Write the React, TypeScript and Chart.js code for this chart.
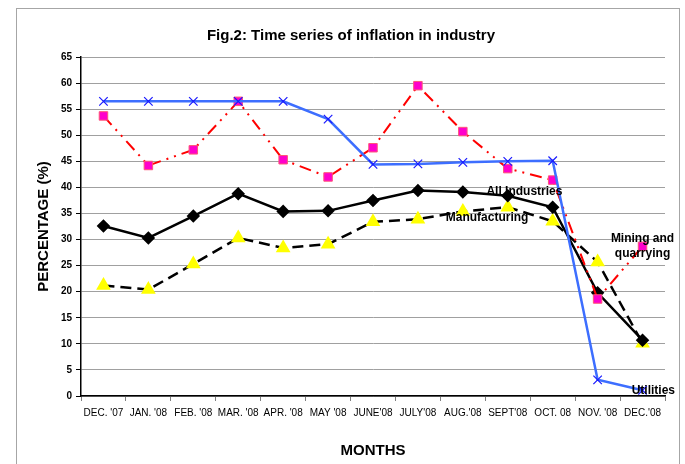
import React, { useEffect, useRef } from "react";
import { Chart, registerables } from "chart.js";

Chart.register(...registerables);

const categories = [
  "DEC. '07", "JAN. '08", "FEB. '08", "MAR. '08", "APR. '08", "MAY '08",
  "JUNE'08", "JULY'08", "AUG.'08", "SEPT'08", "OCT. 08", "NOV. '08", "DEC.'08",
];
const allIndustries = [32.6, 30.3, 34.5, 38.8, 35.4, 35.5, 37.5, 39.4, 39.1, 38.4, 36.2, 19.8, 10.7];
const manufacturing = [21.2, 20.4, 25.3, 30.3, 28.4, 29.1, 33.4, 33.9, 35.4, 36.2, 33.5, 25.7, 10.1];
const mining = [53.7, 44.2, 47.2, 56.5, 45.3, 42.0, 47.6, 59.5, 50.7, 43.6, 41.4, 18.6, 28.7];
const utilities = [56.5, 56.5, 56.5, 56.5, 56.5, 53.1, 44.4, 44.5, 44.8, 45.0, 45.1, 3.1, 1.1];
const yTicks = [0, 5, 10, 15, 20, 25, 30, 35, 40, 45, 50, 55, 60, 65];

// text annotations anchored in data space: [category index, value, lines]
const seriesLabels: { x: number; y: number; lines: string[] }[] = [
  { x: 9.37, y: 39.2, lines: ["All Industries"] },
  { x: 8.54, y: 34.2, lines: ["Manufacturing"] },
  { x: 12.0, y: 30.1, lines: ["Mining and", "quarrying"] },
  { x: 12.24, y: 1.1, lines: ["Utilities"] },
];

const FONT = "'Liberation Sans', Arial, sans-serif";

const decorPlugin = {
  id: "decor",
  beforeDraw(chart: any) {
    const ctx = chart.ctx;
    ctx.save();
    ctx.fillStyle = "#ffffff";
    ctx.fillRect(0, 0, chart.width, chart.height);
    ctx.strokeStyle = "#a6a6a6";
    ctx.lineWidth = 1;
    ctx.strokeRect(16.5, 8.5, 663, 470);
    ctx.fillStyle = "#000";
    ctx.font = `bold 15px ${FONT}`;
    ctx.textAlign = "center";
    ctx.textBaseline = "middle";
    ctx.fillText("Fig.2: Time series of inflation in industry", 351, 36);
    ctx.restore();
  },
  afterDatasetsDraw(chart: any) {
    const ctx = chart.ctx;
    const xs = chart.scales.x;
    const ys = chart.scales.y;
    ctx.save();
    ctx.fillStyle = "#000";
    ctx.font = `bold 12px ${FONT}`;
    ctx.textAlign = "center";
    ctx.textBaseline = "middle";
    for (const l of seriesLabels) {
      const px = xs.getPixelForValue(l.x);
      const py = ys.getPixelForValue(l.y);
      l.lines.forEach((t, i) => ctx.fillText(t, px, py + i * 15));
    }
    ctx.restore();
  },
};

export default function App() {
  const ref = useRef<HTMLCanvasElement | null>(null);
  useEffect(() => {
    if (!ref.current) return;
    const chart = new Chart(ref.current, {
      type: "line",
      data: {
        labels: categories,
        datasets: [
          {
            label: "Utilities",
            data: utilities,
            borderColor: "#3d6eff",
            borderWidth: 2.5,
            pointStyle: "crossRot",
            pointRadius: 6,
            pointBorderColor: "#1a1aff",
            pointBorderWidth: 1.2,
            pointBackgroundColor: "#1a1aff",
            tension: 0,
          },
          {
            label: "Mining and quarrying",
            data: mining,
            borderColor: "#ff0000",
            borderWidth: 2,
            borderDash: [12, 6, 2, 6, 2, 6],
            pointStyle: "rect",
            pointRadius: 6,
            pointBackgroundColor: "#ff00cc",
            pointBorderColor: "#ff5577",
            pointBorderWidth: 1,
            tension: 0,
          },
          {
            label: "All Industries",
            data: allIndustries,
            borderColor: "#000000",
            borderWidth: 2.5,
            pointStyle: "rectRot",
            pointRadius: 5,
            pointBackgroundColor: "#000",
            pointBorderColor: "#000",
            tension: 0,
          },
          {
            label: "Manufacturing",
            data: manufacturing,
            borderColor: "#000000",
            borderWidth: 2.5,
            borderDash: [11, 6],
            pointStyle: "triangle",
            pointRadius: 6,
            pointBackgroundColor: "#ffff00",
            pointBorderColor: "#ffff00",
            tension: 0,
          },
        ],
      },
      options: {
        animation: false,
        responsive: false,
        devicePixelRatio: 1,
        layout: { padding: { top: 57, right: 20, left: 0, bottom: 0 } },
        plugins: { legend: { display: false }, title: { display: false }, tooltip: { enabled: false } },
        scales: {
          x: {
            type: "category",
            offset: true,
            afterFit: (s: any) => { s.height = 68; },
            grid: { display: true, drawOnChartArea: false, color: "#808080", tickLength: 5, offset: true },
            border: { display: true, color: "#000", width: 1.5 },
            ticks: { color: "#000", font: { family: FONT, size: 10 }, padding: 6, maxRotation: 0, autoSkip: false },
            title: { display: true, text: "MONTHS", color: "#000", font: { family: FONT, size: 15, weight: "bold" }, padding: { top: 0, bottom: 4 } },
          },
          y: {
            min: 0,
            max: 65,
            afterFit: (s: any) => { s.width = 81; },
            afterBuildTicks: (s: any) => { s.ticks = yTicks.map((v) => ({ value: v })); },
            grid: { color: "#a0a0a0", lineWidth: 1, tickLength: 5, tickColor: "#000" },
            border: { display: true, color: "#000", width: 1.5 },
            ticks: { color: "#000", font: { family: FONT, size: 10, weight: "bold" }, padding: 4 },
            title: { display: true, text: "PERCENTAGE (%)", color: "#000", font: { family: FONT, size: 15, weight: "bold" }, padding: { top: 35, bottom: 0 } },
          },
        },
      },
      plugins: [decorPlugin],
    } as any);
    return () => chart.destroy();
  }, []);
  return (
    <canvas
      ref={ref}
      width={685}
      height={464}
      style={{ position: "fixed", left: 0, top: 0, width: 685, height: 464 }}
    />
  );
}
